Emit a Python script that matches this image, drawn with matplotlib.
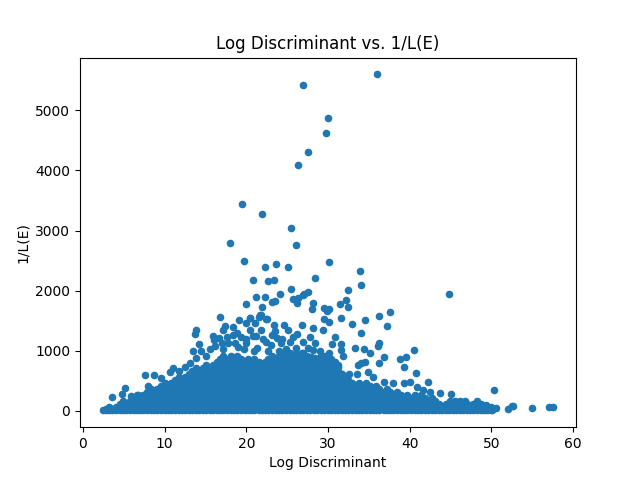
import matplotlib
matplotlib.use('Agg')
import matplotlib.pyplot as plt

# scattered points above the main mass
top_x = [36.0, 27.0, 30.0, 29.7, 27.6, 26.3, 44.8, 19.5, 21.9, 25.5, 18.0, 26.1, 19.7, 30.1, 22.3, 23.6, 25.1, 33.9,
         20.8, 22.7, 23.4, 28.4, 34.0, 25.5, 32.4, 24.1, 21.2, 22.3, 27.5, 27.1, 26.9, 26.3, 25.7, 26.2, 23.5, 23.1,
         20.0, 21.9, 28.2, 28.0, 29.5, 30.1, 29.9, 31.5, 32.2, 32.5, 36.2, 37.6, 34.5, 16.8, 19.1, 20.5, 21.7, 21.5,
         22.5, 29.5, 31.6, 30.1, 29.4, 28.2, 26.8, 32.9, 37.2, 34.1, 30.8, 30.5, 31.6, 33.3, 34.4, 36.2, 36.1, 35.1,
         36.9, 36.3, 38.8, 39.5, 39.3, 34.5, 34.0, 33.7, 31.6, 31.8, 30.1, 29.6, 29.8, 29.0, 28.4, 27.8, 26.9, 27.5,
         28.2, 28.4, 26.8, 26.1, 26.2, 25.7, 25.1, 24.6, 23.4, 23.5, 23.8, 21.8, 22.4, 20.5, 20.0, 21.8, 20.4, 20.0,
         21.1, 21.2, 40.5, 40.8, 40.0, 42.2, 40.9, 41.6, 42.5, 43.7, 45.0, 50.3, 13.8, 13.7, 15.9, 16.7, 14.2, 13.5,
         14.5, 15.6, 17.8, 18.4, 17.2, 15.1, 13.9, 18.4, 17.4, 17.2, 11.0, 10.6, 11.7, 13.1, 12.5, 7.6, 8.7, 9.5,
         8.0, 5.2, 4.8, 3.6, 5.9, 6.8]
top_y = [5600, 5430, 4880, 4620, 4300, 4090, 1950, 3445, 3278, 3045, 2795, 2762, 2495, 2478, 2395, 2445, 2395, 2328,
         2178, 2162, 2178, 2212, 2095, 2028, 2012, 1945, 1895, 1895, 1978, 1945, 1928, 1878, 1862, 1795, 1828, 1812,
         1778, 1728, 1795, 1695, 1712, 1695, 1662, 1778, 1845, 1728, 1578, 1645, 1517, 1567, 1517, 1545, 1595, 1567,
         1533, 1533, 1550, 1478, 1345, 1378, 1428, 1445, 1412, 1295, 1228, 1112, 1112, 1045, 1028, 1128, 1083, 962,
         895, 795, 862, 895, 728, 812, 795, 762, 1005, 905, 962, 905, 850, 995, 1128, 1228, 1145, 1045,
         1017, 878, 962, 1045, 1278, 1222, 1345, 1428, 1428, 1322, 1212, 1600, 1528, 1545, 1462, 1350, 1338, 1195,
         1462, 1238, 1012, 628, 483, 472, 395, 338, 317, 295, 278, 350, 1350, 1278, 1250, 1212, 1112, 995,
         995, 1028, 1128, 1267, 1028, 905, 878, 1395, 1405, 1338, 712, 638, 655, 795, 722, 595, 595, 545,
         405, 383, 283, 233, 250, 267]

# loose points just over the mass, and the thin tail on the right
edge_x = [32.6, 33.5, 34.9, 35.5, 36.9, 38.0, 39.3, 48.2, 46.8, 46.1, 45.5, 44.9, 49.4, 50.6, 50.1, 52.0, 52.5, 52.7,
          55.0, 57.1, 57.6, 2.4, 19.0, 20.0, 21.3, 22.4, 23.0, 24.2, 24.9, 18.6, 17.0, 16.2, 27.0, 27.9,
          19.4, 20.8, 22.0, 23.2, 24.4, 25.3, 16.0, 17.6, 18.9, 19.7, 21.0, 22.6, 24.0]
edge_y = [617, 617, 645, 562, 483, 462, 462, 167, 167, 167, 167, 167, 88, 45, 28, 33, 83, 72,
          45, 62, 62, 17, 1060, 1120, 1040, 1150, 1090, 1120, 1030, 1120, 1130, 1070, 880, 900,
          1220, 1240, 1190, 1260, 1190, 1140, 1170, 1230, 1300, 1030, 1000, 1000, 1000]

# the solid mass: x positions read along each y level
mass_x_5 = [2.8, 3.6, 4.5, 5.3, 6.2, 7.0, 7.9, 8.7, 9.6, 10.4, 11.3, 12.1, 13.0, 13.8, 14.7, 15.5, 16.4, 17.2, 18.1,
            18.9, 19.8, 20.6, 21.5, 22.3, 23.2, 24.0, 24.9, 25.7, 26.6, 27.4, 28.3, 29.1, 30.0, 30.8, 31.7, 32.5,
            33.4, 34.2, 35.1, 35.9, 36.8, 37.6, 38.5, 39.3, 40.2, 41.0, 41.9, 42.7, 43.6, 44.4, 45.3, 46.1, 47.0,
            47.8, 48.7, 49.5, 50.1]
mass_x_60 = [3.2, 4.0, 4.9, 5.7, 6.6, 7.4, 8.3, 9.1, 10.0, 10.8, 11.7, 12.5, 13.4, 14.2, 15.1, 15.9, 16.8, 17.6, 18.5,
             19.3, 20.2, 21.0, 21.9, 22.7, 23.6, 24.4, 25.3, 26.1, 27.0, 27.8, 28.7, 29.5, 30.4, 31.2, 32.1, 32.9,
             33.8, 34.6, 35.5, 36.3, 37.2, 38.0, 38.9, 39.7, 40.6, 41.4, 42.3, 43.1, 44.0, 44.8, 45.7, 46.5, 47.4,
             48.2, 49.1, 49.9]
mass_x_110 = [4.5, 5.3, 6.2, 7.0, 7.9, 8.7, 9.6, 10.4, 11.3, 12.1, 13.0, 13.8, 14.7, 15.5, 16.4, 17.2, 18.1, 18.9,
              19.8, 20.6, 21.5, 22.3, 23.2, 24.0, 24.9, 25.7, 26.6, 27.4, 28.3, 29.1, 30.0, 30.8, 31.7, 32.5, 33.4,
              34.2, 35.1, 35.9, 36.8, 37.6, 38.5, 39.3, 40.2, 41.0, 41.9, 42.7, 43.6, 44.4, 45.3, 46.1, 47.0, 47.8,
              48.7]
mass_x_160 = [4.9, 5.7, 6.6, 7.4, 8.3, 9.1, 10.0, 10.8, 11.7, 12.5, 13.4, 14.2, 15.1, 15.9, 16.8, 17.6, 18.5, 19.3,
              20.2, 21.0, 21.9, 22.7, 23.6, 24.4, 25.3, 26.1, 27.0, 27.8, 28.7, 29.5, 30.4, 31.2, 32.1, 32.9, 33.8,
              34.6, 35.5, 36.3, 37.2, 38.0, 38.9, 39.7, 40.6, 41.4, 42.3, 43.1]
mass_x_210 = [6.2, 7.0, 7.9, 8.7, 9.6, 10.4, 11.3, 12.1, 13.0, 13.8, 14.7, 15.5, 16.4, 17.2, 18.1, 18.9, 19.8, 20.6,
              21.5, 22.3, 23.2, 24.0, 24.9, 25.7, 26.6, 27.4, 28.3, 29.1, 30.0, 30.8, 31.7, 32.5, 33.4, 34.2, 35.1,
              35.9, 36.8, 37.6, 38.5, 39.3, 40.2, 41.0, 41.9, 42.7]
mass_x_260 = [6.6, 7.4, 8.3, 9.1, 10.0, 10.8, 11.7, 12.5, 13.4, 14.2, 15.1, 15.9, 16.8, 17.6, 18.5, 19.3, 20.2, 21.0,
              21.9, 22.7, 23.6, 24.4, 25.3, 26.1, 27.0, 27.8, 28.7, 29.5, 30.4, 31.2, 32.1, 32.9, 33.8, 34.6, 35.5,
              36.3, 37.2, 38.0, 38.9, 39.7, 40.6, 41.4]
mass_x_310 = [7.9, 8.7, 9.6, 10.4, 11.3, 12.1, 13.0, 13.8, 14.7, 15.5, 16.4, 17.2, 18.1, 18.9, 19.8, 20.6, 21.5, 22.3,
              23.2, 24.0, 24.9, 25.7, 26.6, 27.4, 28.3, 29.1, 30.0, 30.8, 31.7, 32.5, 33.4, 34.2, 35.1, 35.9, 36.8,
              37.6, 38.5]
mass_x_360 = [8.3, 9.1, 10.0, 10.8, 11.7, 12.5, 13.4, 14.2, 15.1, 15.9, 16.8, 17.6, 18.5, 19.3, 20.2, 21.0, 21.9, 22.7,
              23.6, 24.4, 25.3, 26.1, 27.0, 27.8, 28.7, 29.5, 30.4, 31.2, 32.1, 32.9, 33.8, 34.6, 35.5, 36.3, 37.2]
mass_x_410 = [9.6, 10.4, 11.3, 12.1, 13.0, 13.8, 14.7, 15.5, 16.4, 17.2, 18.1, 18.9, 19.8, 20.6, 21.5, 22.3, 23.2,
              24.0, 24.9, 25.7, 26.6, 27.4, 28.3, 29.1, 30.0, 30.8, 31.7, 32.5, 33.4, 34.2, 35.1, 35.9]
mass_x_460 = [10.0, 10.8, 11.7, 12.5, 13.4, 14.2, 15.1, 15.9, 16.8, 17.6, 18.5, 19.3, 20.2, 21.0, 21.9, 22.7, 23.6,
              24.4, 25.3, 26.1, 27.0, 27.8, 28.7, 29.5, 30.4, 31.2, 32.1, 32.9, 33.8, 34.6]
mass_x_510 = [11.3, 12.1, 13.0, 13.8, 14.7, 15.5, 16.4, 17.2, 18.1, 18.9, 19.8, 20.6, 21.5, 22.3, 23.2, 24.0, 24.9,
              25.7, 26.6, 27.4, 28.3, 29.1, 30.0, 30.8, 31.7, 32.5]
mass_x_560 = [11.7, 12.5, 13.4, 14.2, 15.1, 15.9, 16.8, 17.6, 18.5, 19.3, 20.2, 21.0, 21.9, 22.7, 23.6, 24.4, 25.3,
              26.1, 27.0, 27.8, 28.7, 29.5, 30.4, 31.2, 32.1]
mass_x_610 = [13.0, 13.8, 14.7, 15.5, 16.4, 17.2, 18.1, 18.9, 19.8, 20.6, 21.5, 22.3, 23.2, 24.0, 24.9, 25.7, 26.6,
              27.4, 28.3, 29.1, 30.0, 30.8, 31.7]
mass_x_660 = [13.4, 14.2, 15.1, 15.9, 16.8, 17.6, 18.5, 19.3, 20.2, 21.0, 21.9, 22.7, 23.6, 24.4, 25.3, 26.1, 27.0,
              27.8, 28.7, 29.5, 30.4, 31.2]
mass_x_710 = [13.8, 14.7, 15.5, 16.4, 17.2, 18.1, 18.9, 19.8, 20.6, 21.5, 22.3, 23.2, 24.0, 24.9, 25.7, 26.6, 27.4,
              28.3, 29.1, 30.0, 30.8]
mass_x_760 = [15.1, 15.9, 16.8, 17.6, 18.5, 19.3, 20.2, 21.0, 21.9, 22.7, 23.6, 24.4, 25.3, 26.1, 27.0, 27.8, 28.7,
              29.5, 30.4, 31.2]
mass_x_810 = [16.4, 17.2, 18.1, 18.9, 19.8, 20.6, 21.5, 22.3, 23.2, 24.0, 24.9, 25.7, 26.6, 27.4, 28.3, 29.1, 30.0,
              30.8]
mass_x_860 = [16.8, 17.6, 18.5, 19.3, 20.2, 21.0, 22.7, 23.6, 24.4, 25.3, 26.1, 27.0, 27.8, 28.7, 29.5, 30.4]
mass_x_910 = [17.2, 18.1, 18.9, 23.2, 24.0, 24.9, 25.7, 26.6, 27.4, 29.1]
mass_x_960 = [24.4, 25.3, 26.1, 27.0]

# levels are doubled up low down, where the reference has no gaps at all
mass_levels = [(5, mass_x_5), (5, mass_x_60), (35, mass_x_5), (60, mass_x_60), (85, mass_x_110), (110, mass_x_110),
               (135, mass_x_160), (160, mass_x_160), (185, mass_x_210), (210, mass_x_210), (235, mass_x_260),
               (260, mass_x_260), (285, mass_x_310), (310, mass_x_310), (335, mass_x_360), (360, mass_x_360),
               (385, mass_x_410), (410, mass_x_410), (435, mass_x_460), (460, mass_x_460), (485, mass_x_510),
               (510, mass_x_510), (535, mass_x_560), (560, mass_x_560), (585, mass_x_610), (610, mass_x_610),
               (635, mass_x_660), (660, mass_x_660), (685, mass_x_710), (710, mass_x_710), (735, mass_x_760),
               (760, mass_x_760), (810, mass_x_810), (860, mass_x_860), (910, mass_x_910), (960, mass_x_960)]

X = list(top_x) + list(edge_x)
Y = list(top_y) + list(edge_y)
for level, row in mass_levels:
    X += row
    Y += [level] * len(row)

fig, ax = plt.subplots()
ax.scatter(X, Y, s=20)
ax.set_title('Log Discriminant vs. 1/L(E)')
ax.set_xlabel('Log Discriminant')
ax.set_ylabel('1/L(E)')
fig.savefig('out.png')
